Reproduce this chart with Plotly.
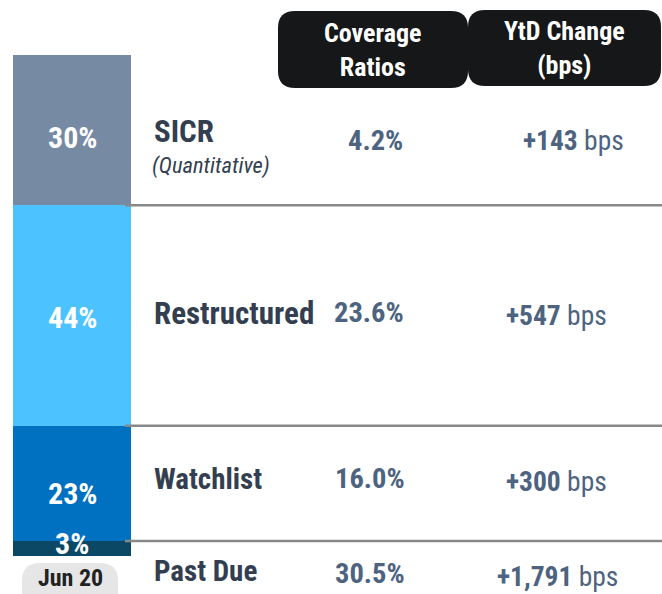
import plotly.graph_objects as go

# ---- data ----
categories = ["Past Due", "Watchlist", "Restructured", "SICR"]
shares = [3, 23, 44, 30]
share_labels = ["3%", "23%", "44%", "30%"]
coverage = ["30.5%", "16.0%", "23.6%", "4.2%"]
ytd_change = ["+1,791", "+300", "+547", "+143"]
subtitles = ["", "", "", "(Quantitative)"]
period = "Jun 20"
headers = ["Coverage<br>Ratios", "YtD Change<br>(bps)"]

colors = ["#0b4866", "#0070c0", "#4cc3ff", "#768aa3"]

W, H = 662, 594
FONT = "Liberation Sans Narrow, Arial Narrow, Roboto Condensed, Liberation Sans, Arial"
LABEL_C = "#333f50"
VAL_C = "#4d6380"

def py(p):
    return 1 - p / H

fig = go.Figure()
for cat, v, c in zip(categories, shares, colors):
    fig.add_trace(go.Bar(x=[72], y=[v], width=118, name=cat, marker=dict(color=c, line=dict(width=0)),
                         hoverinfo="skip", showlegend=False))

annotations = []
shapes = []

# cumulative positions
cum = []
b = 0
for v in shares:
    cum.append((b, b + v))
    b += v

# bar percentage labels (shift in px relative to segment middle)
label_shift = [5, -10, -2, -7]
for (b0, b1), lab, sh in zip(cum, share_labels, label_shift):
    annotations.append(dict(x=72, y=(b0 + b1) / 2, xref="x", yref="y", text=f"<b>{lab}</b>",
                            showarrow=False, yshift=sh, font=dict(family=FONT, size=30, color="white")))

# separator lines at boundaries
for (b0, b1) in cum[:-1]:
    shapes.append(dict(type="line", xref="x", yref="y", x0=125, x1=W, y0=b1, y1=b1,
                       line=dict(color="#888888", width=2.5)))

# row text positions (pixels from top)
name_y = [571, 479, 313, 131]
cov_y = [573, 478, 312, 140]
ytd_y = [576, 481, 315, 141]
cov_x = [370, 370, 369, 375]
ytd_x = [557, 556, 556, 573]
name_size = [29, 29, 31, 31]
for i, cat in enumerate(categories):
    annotations.append(dict(x=152, y=py(name_y[i]), xref="x", yref="paper", xanchor="left", yanchor="middle",
                            text=f"<b>{cat}</b>", showarrow=False,
                            font=dict(family=FONT, size=name_size[i], color=LABEL_C)))
    if subtitles[i]:
        annotations.append(dict(x=150, y=py(166), xref="x", yref="paper", xanchor="left", yanchor="middle",
                                text=f"<i>{subtitles[i]}</i>", showarrow=False,
                                font=dict(family=FONT, size=22.5, color=LABEL_C)))
    annotations.append(dict(x=cov_x[i], y=py(cov_y[i]), xref="x", yref="paper", xanchor="center", yanchor="middle",
                            text=f"<b>{coverage[i]}</b>", showarrow=False,
                            font=dict(family=FONT, size=28.5, color=VAL_C)))
    annotations.append(dict(x=ytd_x[i], y=py(ytd_y[i]), xref="x", yref="paper", xanchor="center", yanchor="middle",
                            text=f"<b>{ytd_change[i]}</b> bps", showarrow=False,
                            font=dict(family=FONT, size=27.5, color=VAL_C)))

# header boxes
def rrect(x0, x1, y0, y1, r=17):
    Y0, Y1 = py(y0), py(y1)
    ry = r / H
    return (f"M {x0+r},{Y0} L {x1-r},{Y0} Q {x1},{Y0} {x1},{Y0-ry} L {x1},{Y1+ry} Q {x1},{Y1} {x1-r},{Y1} "
            f"L {x0+r},{Y1} Q {x0},{Y1} {x0},{Y1+ry} L {x0},{Y0-ry} Q {x0},{Y0} {x0+r},{Y0} Z")

hdr_boxes = [(278, 468, 11, 88), (468, 661, 10, 86)]
for (x0, x1, y0, y1), t in zip(hdr_boxes, headers):
    shapes.append(dict(type="path", xref="x", yref="paper", path=rrect(x0, x1, y0, y1),
                       fillcolor="#161718", line=dict(width=0)))
    annotations.append(dict(x=(x0 + x1) / 2, y=py((y0 + y1) / 2), xref="x", yref="paper",
                            text=f"<b>{t}</b>", showarrow=False, xanchor="center", yanchor="middle",
                            font=dict(family=FONT, size=26, color="white")))

# period pill
shapes.append(dict(type="path", xref="x", yref="paper", path=rrect(22, 118, 563, 610, r=18),
                   fillcolor="#e6e6e6", line=dict(width=0)))
annotations.append(dict(x=70, y=py(578), xref="x", yref="paper", text=f"<b>{period}</b>", showarrow=False,
                        xanchor="center", yanchor="middle", font=dict(family=FONT, size=24, color="#222222")))

fig.update_layout(
    width=W, height=H, margin=dict(l=0, r=0, t=0, b=0),
    paper_bgcolor="white", plot_bgcolor="white",
    barmode="stack", bargap=0,
    xaxis=dict(range=[0, W], visible=False, fixedrange=True),
    yaxis=dict(range=[0, 100], domain=[(H - 556) / H, (H - 55) / H], visible=False, fixedrange=True),
    shapes=shapes, annotations=annotations,
)
fig.write_html("out.html", config={"displayModeBar": False},
               post_script="document.body.style.margin='0';document.body.style.overflow='hidden';")
